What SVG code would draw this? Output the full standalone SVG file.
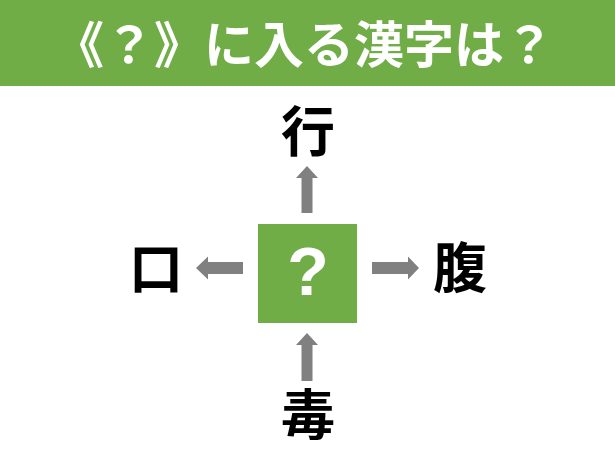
<svg xmlns="http://www.w3.org/2000/svg" width="615" height="462" viewBox="0 0 615 462">
<style>
.kanji{font-family:"Noto Sans CJK JP","Noto Sans CJK SC",sans-serif;font-weight:700;font-size:54px;fill:#000;text-anchor:middle}
.arrow{fill:#808080}
</style>
<rect x="0" y="0" width="615" height="462" fill="#fff"/>
<g id="header">
<rect x="0" y="0" width="615" height="86" fill="#70AD47"/>
<text x="304" y="63" font-family="Noto Sans CJK JP, Noto Sans CJK SC, sans-serif" font-weight="700" font-size="50" fill="#fff" text-anchor="middle">《？》に入る漢字は？</text>
</g>
<g id="center">
<rect x="258" y="224" width="99" height="99" fill="#70AD47"/>
<text x="308" y="295" font-family="Liberation Sans, Arial, sans-serif" font-weight="700" font-size="68" fill="#fff" text-anchor="middle">?</text>
</g>
<g id="top"><text class="kanji" x="308" y="152">行</text></g>
<g id="bottom"><text class="kanji" x="308" y="435">毒</text></g>
<g id="left"><text class="kanji" x="156" y="289">口</text></g>
<g id="right"><text class="kanji" x="460" y="288">腹</text></g>
<g id="connectors">
<polygon class="arrow" points="243,262 208,262 208,256.5 196,268 208,279.5 208,274 243,274"/>
<polygon class="arrow" points="372,262 408,262 408,256.5 419,268 408,279.5 408,274 372,274"/>
<polygon class="arrow" points="301.5,213 301.5,178 296,178 307,166 318,178 312.5,178 312.5,213"/>
<polygon class="arrow" points="301.5,381 301.5,345 296,345 307,333 318,345 312.5,345 312.5,381"/>
</g>
</svg>
